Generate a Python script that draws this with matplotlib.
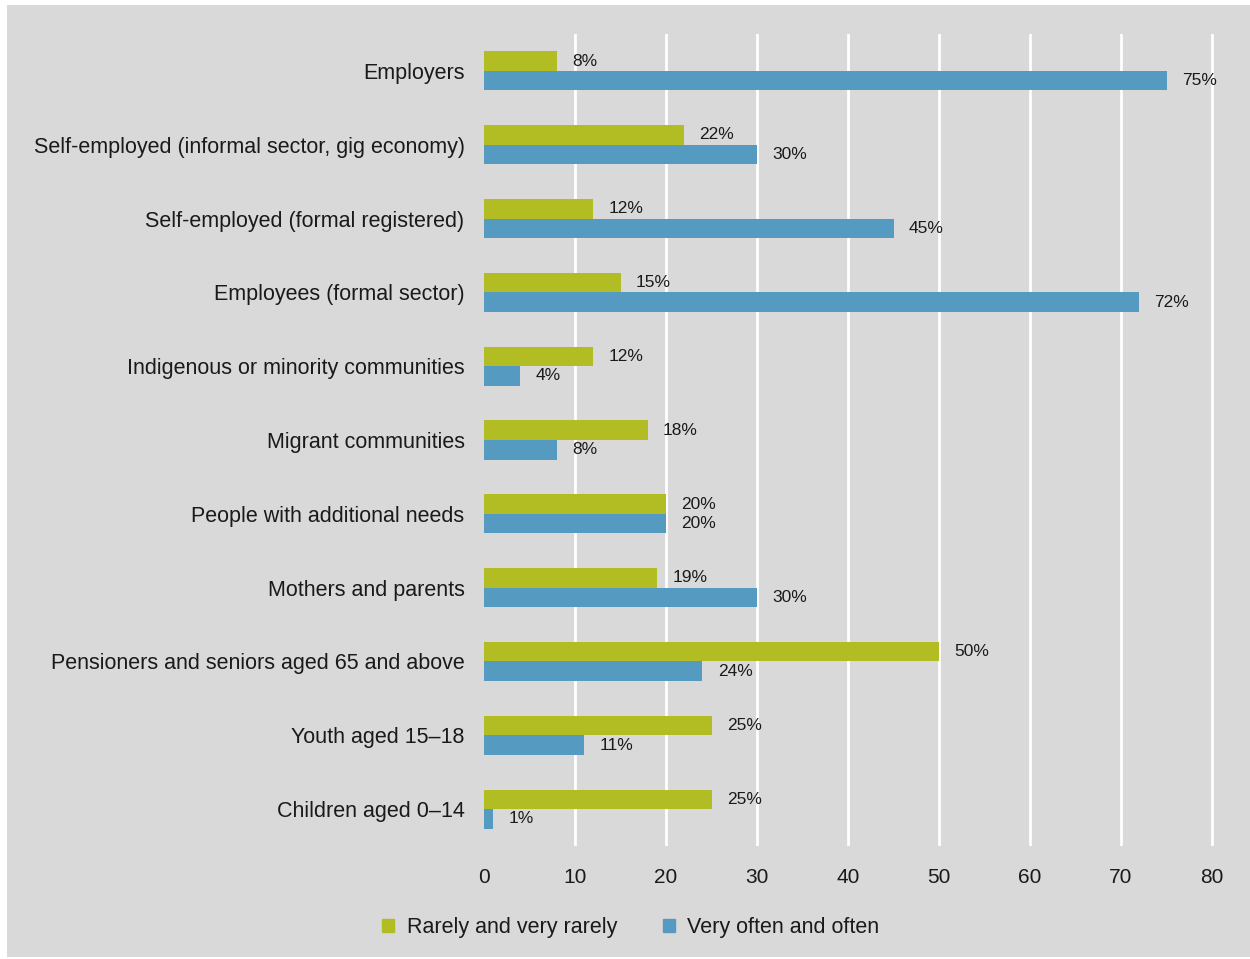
import matplotlib
matplotlib.use("Agg")
import matplotlib.pyplot as plt
from matplotlib.patches import Rectangle

plt.rcParams['font.family'] = ['Liberation Sans', 'DejaVu Sans']

categories = [
    "Employers",
    "Self-employed (informal sector, gig economy)",
    "Self-employed (formal registered)",
    "Employees (formal sector)",
    "Indigenous or minority communities",
    "Migrant communities",
    "People with additional needs",
    "Mothers and parents",
    "Pensioners and seniors aged 65 and above",
    "Youth aged 15\u201318",
    "Children aged 0\u201314",
]
rarely = [8, 22, 12, 15, 12, 18, 20, 19, 50, 25, 25]
often = [75, 30, 45, 72, 4, 8, 20, 30, 24, 11, 1]
series_names = ["Rarely and very rarely", "Very often and often"]
x_ticks = [0, 10, 20, 30, 40, 50, 60, 70, 80]

GREEN = "#b1bd22"
BLUE = "#559ac0"
BG = "#d9d9d9"

W, H = 1250, 959
fig = plt.figure(figsize=(W / 100, H / 100), dpi=100)
fig.patch.set_facecolor("white")
# grey panel with a thin white margin on the left and top
fig.patches.append(Rectangle((7 / W, 2 / H), 1 - 7 / W, 1 - 7 / H,
                             transform=fig.transFigure, facecolor=BG,
                             edgecolor="none", zorder=-10))

ax = fig.add_axes([484 / W, 1 - 846 / H, (1220 - 484) / W, (846 - 34) / H])
ax.patch.set_alpha(0)

n = len(categories)
ypos = list(range(n))
h = 0.265

bars_r = ax.barh([y - h / 2 for y in ypos], rarely, height=h, color=GREEN, zorder=3)
bars_o = ax.barh([y + h / 2 for y in ypos], often, height=h, color=BLUE, zorder=3)

for bars, vals in ((bars_r, rarely), (bars_o, often)):
    for b, v in zip(bars, vals):
        ax.annotate(f"{v}%", (v, b.get_y() + b.get_height() / 2),
                    xytext=(11, 0), textcoords="offset points",
                    ha="left", va="center", fontsize=12.5, color="#1a1a1a")

ax.set_xlim(0, 80 * (1220 - 484) / (1212 - 484))
ax.set_ylim(n - 0.5, -0.5)
ax.set_xticks(x_ticks)
ax.set_xticklabels([str(t) for t in x_ticks])
ax.set_yticks(ypos)
ax.set_yticklabels(categories)
ax.tick_params(axis="y", length=0, pad=14, labelsize=15.5, labelcolor="#1a1a1a")
ax.tick_params(axis="x", length=0, pad=16, labelsize=15, labelcolor="#1a1a1a")
ax.grid(axis="x", color="white", linewidth=2, zorder=1)
ax.xaxis.get_gridlines()[0].set_visible(False)
ax.set_axisbelow(True)
for s in ax.spines.values():
    s.set_visible(False)

handles = [Rectangle((0, 0), 1, 1, color=GREEN), Rectangle((0, 0), 1, 1, color=BLUE)]
fig.legend(handles, series_names, loc="center", bbox_to_anchor=(631 / W, 1 - 928 / H),
           ncol=2, frameon=False, fontsize=15.5, handlelength=0.55, handleheight=0.55,
           handletextpad=0.6, columnspacing=2.1, labelcolor="#1a1a1a")

fig.savefig("out.png", dpi=100, facecolor=fig.get_facecolor())
